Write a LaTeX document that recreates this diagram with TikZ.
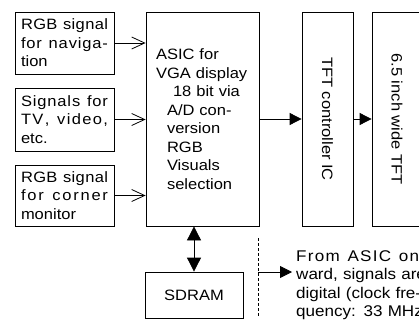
\documentclass[tikz,border=0pt]{standalone}
\usepackage{fontspec}
\setmainfont[FakeStretch=1.1]{Liberation Sans}
\usetikzlibrary{arrows.meta}
\newcommand\spreadline[2]{\leavevmode\hbox to #1{#2}}
\begin{document}
\begin{tikzpicture}[x=1pt,y=-1pt,
  every node/.style={font=\fontsize{15}{18.5}\selectfont},
  box/.style={draw,line width=0.8pt,inner sep=0pt},
  lbox/.style={box,text width=87pt,inner xsep=6pt,minimum height=62pt,align=left},
  conn/.style={line width=0.8pt},
  openarr/.style={conn,-{Straight Barb[length=13pt,width=12pt]}},
  fillarr/.style={conn,-{Triangle[length=12pt,width=12pt]}},
  dblarr/.style={conn,{Triangle[length=14pt,width=14pt]}-{Triangle[length=14pt,width=14pt]}},
  dashline/.style={line width=0.7pt,dash pattern=on 3pt off 2pt}]
\useasboundingbox (0,0) rectangle (419,323);

% input boxes
\node[lbox] (in1) at (64.5,43)
  {\spreadline{87pt}{R\hfil G\hfil B\hfil\ \hfil s\hfil i\hfil g\hfil n\hfil a\hfil l}\\
   \spreadline{87pt}{f\hfil o\hfil r\hfil\ \hfil n\hfil a\hfil v\hfil i\hfil g\hfil a\hfil -}\\
   tion};
\node[lbox,minimum height=63pt] (in2) at (64.5,119.5)
  {\spreadline{87pt}{S\hfil i\hfil g\hfil n\hfil a\hfil l\hfil s\hfil\ \hfil f\hfil o\hfil r}\\
   \spreadline{87pt}{T\hfil V\hfil ,\hfil\ \hfil v\hfil i\hfil d\hfil e\hfil o\hfil ,}\\
   etc.};
\node[lbox,minimum height=61pt] (in3) at (64.5,195.5)
  {\spreadline{87pt}{R\hfil G\hfil B\hfil\ \hfil s\hfil i\hfil g\hfil n\hfil a\hfil l}\\
   \spreadline{87pt}{f\hfil o\hfil r\hfil\ \hfil c\hfil o\hfil r\hfil n\hfil e\hfil r}\\
   monitor};

% ASIC
\node[box,text width=93pt,inner xsep=10pt,minimum height=214pt,align=left] (asic) at (202.5,119)
  {ASIC for\\
   VGA display\\
   \hspace*{17pt}18 bit via\\
   \hspace*{11pt}A/D con-\\
   \hspace*{11pt}version\\
   \hspace*{11pt}RGB\\
   \hspace*{11pt}Visuals\\
   \hspace*{11pt}selection};

% TFT controller and panel
\node[box,rotate=-90,minimum width=214pt,minimum height=51pt] (tft) at (327.5,119) {TFT controller IC};
\node[box,rotate=-90,minimum width=214pt,minimum height=50pt] (six) at (397,119) {6.5 inch wide TFT};

% SDRAM
\node[box,minimum width=98pt,minimum height=46pt] (sdram) at (194,295) {SDRAM};

% connectors
\draw[openarr] (in1.east) -- (in1.east -| asic.west);
\draw[openarr] (in2.east) -- (in2.east -| asic.west);
\draw[openarr] (in3.east) -- (in3.east -| asic.west);
\draw[fillarr] (asic.east) -- (tft.south);
\draw[fillarr] (tft.north) -- (six.south);
\draw[dblarr] (sdram.north) -- (sdram.north |- asic.south);

% note
\coordinate (dtop) at (258,238);
\coordinate (dbot) at (258,317);
\coordinate (dmid) at (258,272);
\draw[dashline] (dtop) -- (dbot);
\node[anchor=base west,inner xsep=4pt,inner ysep=0pt,text width=150pt,align=left,
      font=\fontsize{15.5}{18.5}\selectfont] (note) at (292,261)
  {\spreadline{130pt}{F\hfil r\hfil o\hfil m\hfil\ \hfil A\hfil S\hfil I\hfil C\hfil\ \hfil o\hfil n\hfil -}\\
   ward, signals are\\
   digital (clock fre-\\
   quency: 33 MHz)};
\draw[fillarr] (dmid) -- (dmid -| note.west);
\end{tikzpicture}
\end{document}
